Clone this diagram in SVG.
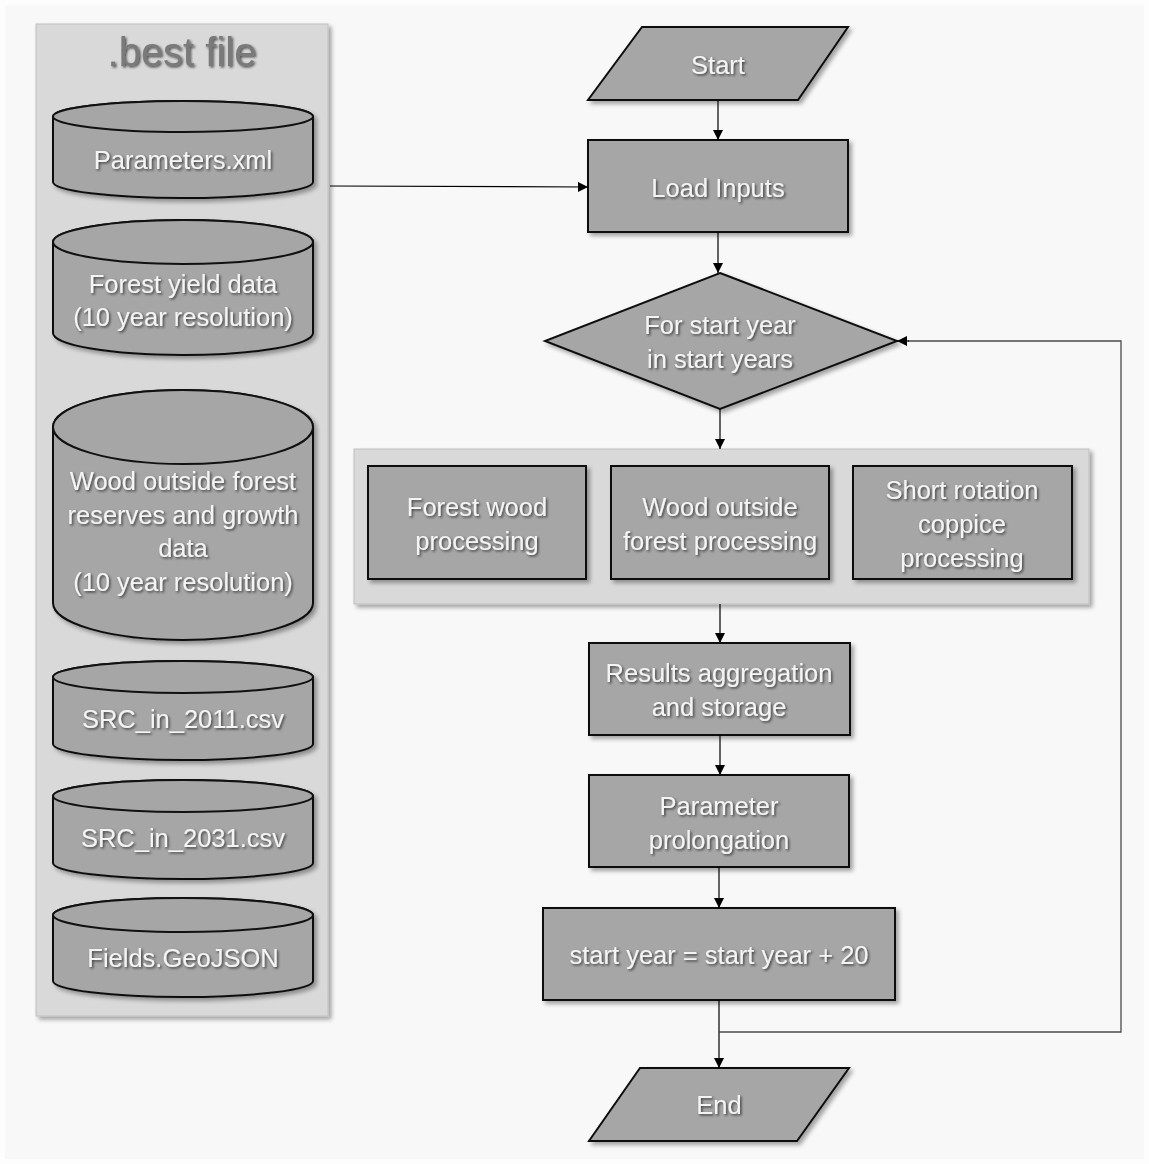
<svg xmlns="http://www.w3.org/2000/svg" width="1149" height="1164" viewBox="0 0 1149 1164">
<defs>
<filter id="sh" x="-10%" y="-10%" width="130%" height="130%">
<feDropShadow dx="3" dy="3" stdDeviation="2" flood-color="#000" flood-opacity="0.35"/>
</filter>
<filter id="tsh" x="-10%" y="-20%" width="130%" height="160%">
<feDropShadow dx="1.5" dy="1.5" stdDeviation="1" flood-color="#222" flood-opacity="0.75"/>
</filter>
<marker id="ar" viewBox="0 0 10 10" refX="10" refY="5" markerWidth="10" markerHeight="10" markerUnits="userSpaceOnUse" orient="auto">
<path d="M0,0 L10,5 L0,10 z" fill="#000"/>
</marker>
</defs>
<style>
.panel{fill:#d9d9d9;stroke:#bfbfbf;stroke-width:1;filter:url(#sh)}
.shape{fill:#a6a6a6;stroke:#111;stroke-width:2;filter:url(#sh)}
.top{fill:#a6a6a6;stroke:#111;stroke-width:2}
.t{font-family:"Liberation Sans",Arial,sans-serif;font-size:25.5px;fill:#f4f4f4;text-anchor:middle;filter:url(#tsh)}
.title{font-family:"Liberation Sans",Arial,sans-serif;font-size:40px;fill:#7a7a7a;text-anchor:middle;filter:url(#tsh)}
.c{fill:none;stroke:#000;stroke-width:1.2;marker-end:url(#ar)}
.loop{fill:none;stroke:#4a4a4a;stroke-width:1.3}
</style>
<rect x="0" y="0" width="1149" height="1164" fill="#fdfdfd"/>
<rect x="5" y="5" width="1139" height="1154" fill="#f8f8f8"/>

<g id="best-file">
<rect class="panel" x="36" y="24" width="292" height="992"/>
<text class="title" x="182" y="66">.best file</text>
</g>

<g id="parameters-xml">
<path class="shape" d="M53,116.5 L53,182 A130,16 0 0 0 313,182 L313,116.5 A130,15.5 0 0 0 53,116.5 z"/>
<ellipse class="top" cx="183" cy="116.5" rx="130" ry="15.5"/>
<text class="t" x="183" y="169">Parameters.xml</text>
</g>

<g id="forest-yield">
<path class="shape" d="M53,242 L53,333 A130,22 0 0 0 313,333 L313,242 A130,22 0 0 0 53,242 z"/>
<ellipse class="top" cx="183" cy="242" rx="130" ry="22"/>
<text class="t" x="183" y="293">Forest yield data</text>
<text class="t" x="183" y="326">(10 year resolution)</text>
</g>

<g id="wood-outside-data">
<path class="shape" d="M53,427 L53,603 A130,37 0 0 0 313,603 L313,427 A130,37 0 0 0 53,427 z"/>
<ellipse class="top" cx="183" cy="427" rx="130" ry="37"/>
<text class="t" x="183" y="490">Wood outside forest</text>
<text class="t" x="183" y="524">reserves and growth</text>
<text class="t" x="183" y="557">data</text>
<text class="t" x="183" y="591">(10 year resolution)</text>
</g>

<g id="src-2011">
<path class="shape" d="M53,677 L53,744 A130,16 0 0 0 313,744 L313,677 A130,16 0 0 0 53,677 z"/>
<ellipse class="top" cx="183" cy="677" rx="130" ry="16"/>
<text class="t" x="183" y="728">SRC_in_2011.csv</text>
</g>

<g id="src-2031">
<path class="shape" d="M53,796 L53,863 A130,16 0 0 0 313,863 L313,796 A130,16 0 0 0 53,796 z"/>
<ellipse class="top" cx="183" cy="796" rx="130" ry="16"/>
<text class="t" x="183" y="847">SRC_in_2031.csv</text>
</g>

<g id="fields-geojson">
<path class="shape" d="M53,915 L53,981 A130,16 0 0 0 313,981 L313,915 A130,17 0 0 0 53,915 z"/>
<ellipse class="top" cx="183" cy="915" rx="130" ry="17"/>
<text class="t" x="183" y="967">Fields.GeoJSON</text>
</g>

<g id="start">
<polygon class="shape" points="642,27 848,27 798,100 588,100"/>
<text class="t" x="718" y="74">Start</text>
</g>

<g id="load-inputs">
<rect class="shape" x="588" y="140" width="260" height="92"/>
<text class="t" x="718" y="197">Load Inputs</text>
</g>

<g id="for-loop">
<polygon class="shape" points="720,273 897,341 720,409 545,341"/>
<text class="t" x="720" y="334">For start year</text>
<text class="t" x="720" y="368">in start years</text>
</g>

<g id="processing-group">
<rect class="panel" x="354" y="449" width="735" height="155"/>
</g>

<g id="forest-wood-processing">
<rect class="shape" x="368" y="466" width="218" height="113"/>
<text class="t" x="477" y="516">Forest wood</text>
<text class="t" x="477" y="550">processing</text>
</g>

<g id="wood-outside-processing">
<rect class="shape" x="611" y="466" width="218" height="113"/>
<text class="t" x="720" y="516">Wood outside</text>
<text class="t" x="720" y="550">forest processing</text>
</g>

<g id="src-processing">
<rect class="shape" x="853" y="466" width="219" height="113"/>
<text class="t" x="962" y="499">Short rotation</text>
<text class="t" x="962" y="533">coppice</text>
<text class="t" x="962" y="567">processing</text>
</g>

<g id="results">
<rect class="shape" x="589" y="643" width="261" height="92"/>
<text class="t" x="719" y="682">Results aggregation</text>
<text class="t" x="719" y="716">and storage</text>
</g>

<g id="prolongation">
<rect class="shape" x="589" y="775" width="260" height="92"/>
<text class="t" x="719" y="815">Parameter</text>
<text class="t" x="719" y="849">prolongation</text>
</g>

<g id="increment">
<rect class="shape" x="543" y="908" width="352" height="92"/>
<text class="t" x="719" y="964">start year = start year + 20</text>
</g>

<g id="end">
<polygon class="shape" points="640,1068 849,1068 797,1141 589,1141"/>
<text class="t" x="719" y="1114">End</text>
</g>

<g id="connectors">
<line class="c" x1="718" y1="100" x2="718" y2="140"/>
<line class="c" x1="330" y1="186" x2="588" y2="187"/>
<line class="c" x1="718" y1="232" x2="718" y2="273"/>
<line class="c" x1="720" y1="409" x2="720" y2="449"/>
<line class="c" x1="720" y1="604" x2="720" y2="643"/>
<line class="c" x1="720" y1="735" x2="720" y2="775"/>
<line class="c" x1="719" y1="867" x2="719" y2="908"/>
<line class="c" x1="719" y1="1000" x2="719" y2="1068"/>
<polyline class="loop" points="719,1032 1121,1032 1121,341 908,341"/>
<line class="c" x1="909" y1="341" x2="897" y2="341"/>
</g>
</svg>
